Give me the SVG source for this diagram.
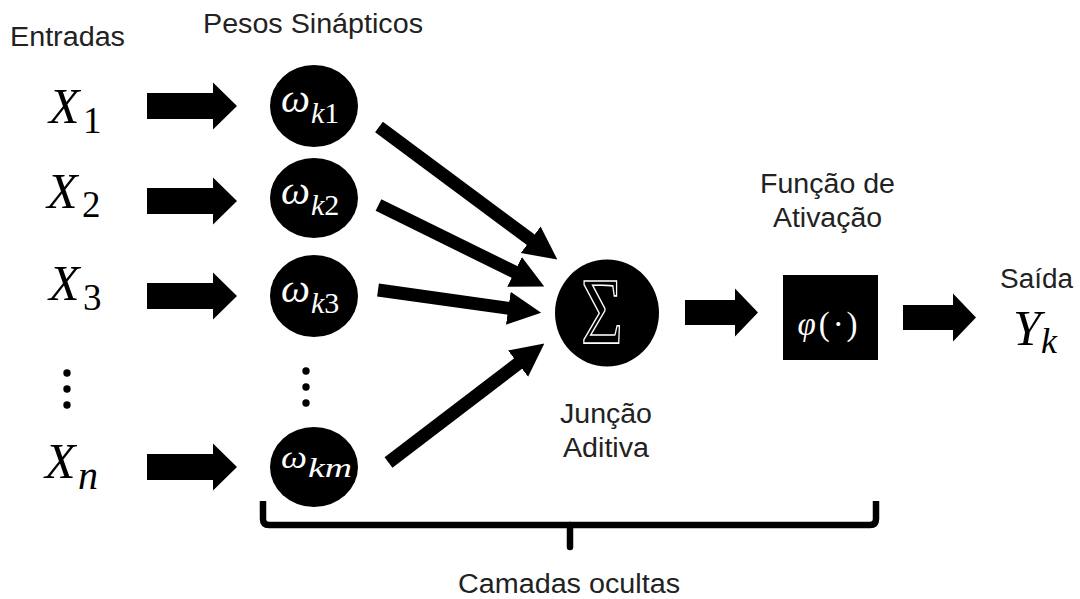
<svg xmlns="http://www.w3.org/2000/svg" width="1080" height="599" viewBox="0 0 1080 599">
<style>
.lbl{font-family:"Liberation Sans",Arial,sans-serif;font-size:27px;fill:#222}
.math{font-family:"Liberation Serif","Times New Roman",serif;font-style:italic;fill:#000}
.wm{font-family:"Liberation Serif","Times New Roman",serif;font-style:italic;fill:#fff}
.up{font-style:normal}
.node{fill:#000}
.conv{stroke:#000;stroke-width:13;fill:none;marker-end:url(#head)}
.brace{stroke:#000;stroke-width:6.5;fill:none}
</style>
<defs>
<marker id="head" viewBox="0 0 10 10" refX="0.3" refY="5" markerWidth="2.55" markerHeight="2.7" orient="auto">
<path d="M0,0 L10,5 L0,10 z" fill="#000"/>
</marker>
<path id="bigArrow" d="M0,-13 H66 V-23.5 L90,0 L66,23.5 V13 H0 Z" fill="#000"/>
<path id="smallArrow" d="M0,-12.5 H50 V-24 L73,0 L50,24 V12.5 H0 Z" fill="#000"/>
</defs>
<rect width="1080" height="599" fill="#fff"/>

<g id="labels">
<text class="lbl" x="10" y="46" textLength="115" lengthAdjust="spacingAndGlyphs">Entradas</text>
<text class="lbl" x="203" y="33" textLength="220" lengthAdjust="spacingAndGlyphs">Pesos Sinápticos</text>
<text class="lbl" x="760" y="193" textLength="135" lengthAdjust="spacingAndGlyphs">Função de</text>
<text class="lbl" x="773" y="227" textLength="109" lengthAdjust="spacingAndGlyphs">Ativação</text>
<text class="lbl" x="1000" y="288" textLength="73" lengthAdjust="spacingAndGlyphs">Saída</text>
<text class="lbl" x="560" y="423" textLength="92" lengthAdjust="spacingAndGlyphs">Junção</text>
<text class="lbl" x="563" y="457" textLength="86" lengthAdjust="spacingAndGlyphs">Aditiva</text>
<text class="lbl" x="458" y="593" textLength="222" lengthAdjust="spacingAndGlyphs">Camadas ocultas</text>
</g>

<g id="inputs">
<g id="x1"><text class="math" x="49" y="123" font-size="50">X</text><text class="math up" x="83" y="133" font-size="37">1</text></g>
<g id="x2"><text class="math" x="47" y="208" font-size="50">X</text><text class="math up" x="82" y="217" font-size="37">2</text></g>
<g id="x3"><text class="math" x="49" y="300" font-size="50">X</text><text class="math up" x="83" y="310" font-size="37">3</text></g>
<g id="xn"><text class="math" x="45" y="478" font-size="50">X</text><text class="math" x="78" y="489" font-size="40">n</text></g>
<g id="input-dots"><circle cx="67" cy="373" r="3.7"/><circle cx="67" cy="389" r="3.7"/><circle cx="67" cy="405" r="3.7"/></g>
</g>

<g id="weights">
<g id="w1"><ellipse class="node" cx="314" cy="106" rx="44" ry="41"/><text class="wm" x="281" y="112" font-size="40" textLength="29" lengthAdjust="spacingAndGlyphs">ω</text><text class="wm" x="311" y="123" font-size="30">k<tspan class="up">1</tspan></text></g>
<g id="w2"><ellipse class="node" cx="314" cy="198" rx="44" ry="40"/><text class="wm" x="281" y="204" font-size="40" textLength="29" lengthAdjust="spacingAndGlyphs">ω</text><text class="wm" x="311" y="215" font-size="30">k<tspan class="up">2</tspan></text></g>
<g id="w3"><ellipse class="node" cx="314" cy="296" rx="44" ry="41"/><text class="wm" x="281" y="302" font-size="40" textLength="29" lengthAdjust="spacingAndGlyphs">ω</text><text class="wm" x="311" y="313" font-size="30">k<tspan class="up">3</tspan></text></g>
<g id="wm"><ellipse class="node" cx="314" cy="467" rx="44" ry="40"/><text class="wm" x="281" y="468" font-size="32" textLength="26" lengthAdjust="spacingAndGlyphs">ω</text><text class="wm" x="308" y="477" font-size="27" textLength="44" lengthAdjust="spacingAndGlyphs">km</text></g>
<g id="weight-dots"><circle cx="306" cy="371" r="3.7"/><circle cx="306" cy="387" r="3.7"/><circle cx="306" cy="403" r="3.7"/></g>
</g>

<g id="sum"><ellipse class="node" cx="607" cy="313" rx="52" ry="53.5"/><text x="602" y="344" font-family="Liberation Serif,serif" font-size="96" fill="#000" stroke="#fff" stroke-width="1.6" text-anchor="middle" textLength="42" lengthAdjust="spacingAndGlyphs">Σ</text></g>

<g id="activation"><rect x="783" y="275" width="95" height="85" fill="#000"/><text x="829" y="335" font-family="Liberation Serif,serif" font-size="33" fill="#fff" text-anchor="middle" letter-spacing="3"><tspan font-style="italic">φ</tspan>(·)</text></g>

<g id="output"><text class="math" x="1013" y="345" font-size="50">Y</text><text class="math" x="1041" y="353" font-size="36">k</text></g>

<g id="connectors">
<use href="#bigArrow" x="147" y="106"/>
<use href="#bigArrow" x="147" y="201"/>
<use href="#bigArrow" x="147" y="296"/>
<use href="#bigArrow" x="147" y="467"/>
<line class="conv" x1="379" y1="127" x2="531.5" y2="240.3"/>
<line class="conv" x1="378.5" y1="205" x2="515.4" y2="272.4"/>
<line class="conv" x1="378" y1="290" x2="509.3" y2="308.4"/>
<line class="conv" x1="388.5" y1="462.5" x2="518.8" y2="363"/>
<use href="#smallArrow" x="685" y="312.5"/>
<use href="#smallArrow" x="903" y="317.5"/>
</g>

<g id="brace">
<path class="brace" d="M263,501 V519 Q263,525 269,525 H870 Q876,525 876,519 V501"/>
<path class="brace" d="M570,525 V547" stroke-linecap="round"/>
</g>
</svg>
